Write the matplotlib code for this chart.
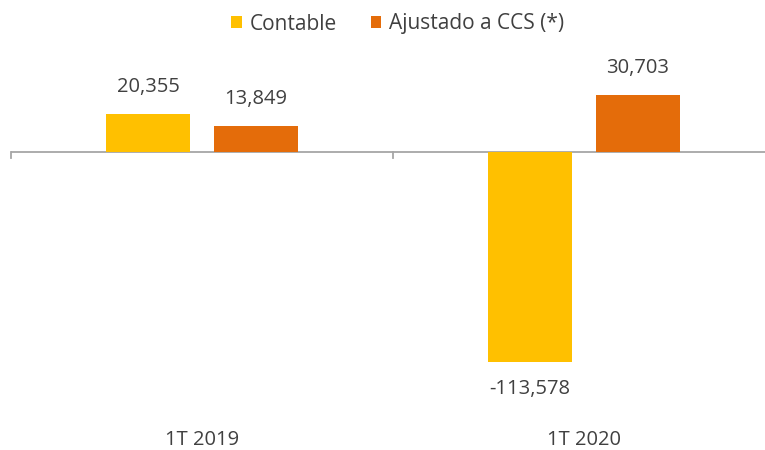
import numpy as np
import matplotlib.pyplot as plt

plt.rcParams['font.family'] = ['Open Sans', 'DejaVu Sans']

categorias = ['1T 2019', '1T 2020']
series = ['Contable', 'Ajustado a CCS (*)']
contable = [20355, -113578]
ajustado = [13849, 30703]
colores = ['#FFC000', '#E46C0A']
texto = '#404040'

fig = plt.figure(figsize=(7.65, 4.5), dpi=100)
# area de trazado (la parte derecha se sale del lienzo, como en el original)
ax = fig.add_axes([11 / 765, 50 / 450, 764 / 765, 360 / 450])

x = np.arange(len(categorias))
ancho = 0.22
sep = 0.063
pos1 = x - (ancho + sep) / 2
pos2 = x + (ancho + sep) / 2

b1 = ax.bar(pos1, contable, ancho, color=colores[0], label=series[0])
b2 = ax.bar(pos2, ajustado, ancho, color=colores[1], label=series[1])

for barras, vals in [(b1, contable), (b2, ajustado)]:
    for b, v in zip(barras, vals):
        cx = b.get_x() + b.get_width() / 2
        off = 19.5 if v >= 0 else -19.5
        ax.annotate(f'{v:,}', (cx, v), xytext=(0, off), textcoords='offset points',
                    ha='center', va='center', fontsize=14.5, color=texto)

ax.set_xlim(-0.5, 1.5)
ax.set_ylim(-134000, 60500)

for s in ['top', 'right', 'left', 'bottom']:
    ax.spines[s].set_visible(False)
ax.axhline(0, color='#A6A6A6', lw=1.3, zorder=0)
for t in [-0.5, 0.5, 1.5]:
    ax.plot([t, t], [0, -3500], color='#A6A6A6', lw=1.3, clip_on=False, zorder=0)

ax.set_xticks([])
ax.set_yticks([])
for xi, c in zip(x, categorias):
    fig.text((11 + 382 * (xi + 0.5)) / 765, 1 - 440 / 450, c, ha='center', va='center',
             fontsize=14.5, color=texto)

fig.legend(loc='center', bbox_to_anchor=(398 / 765, 1 - 24 / 450), ncol=2, frameon=False,
           fontsize=15, labelcolor=texto, handlelength=0.5, handleheight=0.5,
           handletextpad=0.4, columnspacing=1.6)

fig.savefig('out.png', dpi=100)
